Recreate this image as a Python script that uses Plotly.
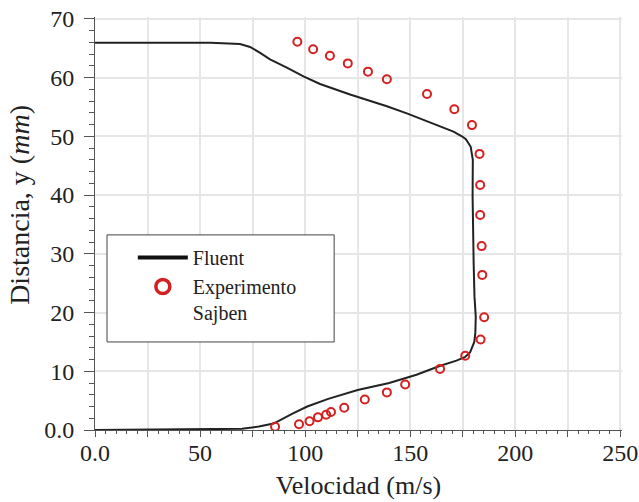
import plotly.graph_objects as go

# Fluent CFD velocity profile (velocity m/s, distance mm)
fluent_vel = [0, 55, 70, 78, 85, 94, 101, 111, 125, 140, 153, 164, 172, 176, 178.5, 180.5, 181, 181.2,
              180.6, 180.2, 179.8, 179.7, 179.8, 178.8, 176.5, 174.6, 170.6, 162.7, 154.8, 148.4,
              138.9, 131.0, 121.4, 107.1, 99.2, 91.3, 83.3, 78.6, 73.8, 69.0, 62.0, 55.0, 0]
fluent_y = [0.0, 0.1, 0.2, 0.6, 1.1, 2.8, 4.0, 5.3, 6.8, 8.0, 9.4, 10.9, 11.8, 12.4, 13.2, 15.0, 16.5, 19.3,
            22.7, 28.4, 34.1, 39.7, 46.0, 48.2, 49.5, 50.0, 50.8, 51.9, 53.1, 53.9,
            55.1, 56.0, 57.1, 58.9, 60.2, 61.7, 63.1, 64.2, 65.2, 65.7, 65.85, 65.9, 65.9]

# Sajben experiment
exp_vel = [85.7, 97.1, 102.1, 106.1, 110.0, 112.3, 118.6, 128.4, 138.9, 147.6, 164.2, 176.2, 183.5,
           185.2, 184.3, 184.0, 183.3, 183.3, 183.0, 179.4, 171.0, 158.0, 138.9, 129.9, 120.3,
           111.8, 103.8, 96.3]
exp_y = [0.56, 0.97, 1.5, 2.15, 2.6, 3.05, 3.8, 5.2, 6.4, 7.75, 10.4, 12.65, 15.4,
         19.2, 26.4, 31.3, 36.6, 41.7, 47.0, 51.9, 54.6, 57.2, 59.7, 61.0, 62.4,
         63.7, 64.8, 66.1]

x_tickvals = [0, 25, 50, 75, 100, 125, 150, 175, 200, 225, 250]
x_ticktext = ["0.0", "", "50", "", "100", "", "150", "", "200", "", "250"]
y_tickvals = [0, 10, 20, 30, 40, 50, 60, 70]
y_ticktext = ["0.0", "10", "20", "30", "40", "50", "60", "70"]

RED = "#d42020"
FONT = "Liberation Serif"

fig = go.Figure()
fig.add_trace(go.Scatter(x=fluent_vel, y=fluent_y, mode="lines",
                         line=dict(color="#222222", width=2), showlegend=False))
fig.add_trace(go.Scatter(x=exp_vel, y=exp_y, mode="markers",
                         marker=dict(symbol="circle-open", size=8, color=RED, line=dict(width=2, color=RED)),
                         showlegend=False))
# legend entries
fig.add_trace(go.Scatter(x=[None], y=[None], mode="lines", name="Fluent",
                         line=dict(color="#111111", width=4)))
fig.add_trace(go.Scatter(x=[None], y=[None], mode="markers", name="Experimento<br>Sajben",
                         marker=dict(symbol="circle-open", size=14, color=RED, line=dict(width=3.5, color=RED))))

fig.update_layout(
    width=639, height=502, autosize=False,
    margin=dict(l=95, r=17.32, t=17.24, b=72, autoexpand=False),
    paper_bgcolor="white", plot_bgcolor="white",
    font=dict(family=FONT, color="#222222", size=24),
    showlegend=True,
    legend=dict(x=0.0718, y=0.465, xanchor="left", yanchor="top",
                bgcolor="rgba(0,0,0,0)", borderwidth=0, itemwidth=50,
                font=dict(family=FONT, size=20, color="#222222"),
                valign="top", tracegroupgap=0),
    shapes=[dict(type="rect", xref="paper", yref="paper", x0=0.0228, x1=0.4538, y0=0.2132, y1=0.4724,
                 line=dict(color="#444444", width=1), fillcolor="white", layer="above")],
    annotations=[dict(text="Distancia, y (<i>mm</i>)", textangle=-90, xref="paper", yref="paper",
                      x=-0.1424, y=0.545, xanchor="center", yanchor="middle", showarrow=False,
                      font=dict(family=FONT, size=28, color="#222222"))],
)
fig.update_xaxes(range=[0, 250.8], tickmode="array", tickvals=x_tickvals, ticktext=x_ticktext,
                 automargin=False, ticklabeloverflow="allow",
                 ticks="outside", ticklen=6, tickcolor="#555555", tickwidth=1,
                 showline=True, linecolor="#555555", linewidth=1,
                 showgrid=True, gridcolor="#e6e6e6", gridwidth=1.5, zeroline=False,
                 minor=dict(dtick=5, ticklen=3, tickcolor="#555555", ticks="outside", showgrid=False),
                 tickfont=dict(family=FONT, size=24), ticklabelstandoff=-5,
                 title=dict(text="Velocidad (m/s)", font=dict(family=FONT, size=26), standoff=11))
fig.update_yaxes(range=[0, 70.3], tickmode="array", tickvals=y_tickvals, ticktext=y_ticktext,
                 automargin=False, ticklabeloverflow="allow",
                 ticks="outside", ticklen=10, tickcolor="#555555", tickwidth=1,
                 showline=True, linecolor="#555555", linewidth=1,
                 showgrid=True, gridcolor="#e6e6e6", gridwidth=1.5, zeroline=False,
                 minor=dict(dtick=2, ticklen=5, tickcolor="#555555", ticks="outside", showgrid=False),
                 tickfont=dict(family=FONT, size=24), ticklabelstandoff=5)

fig.write_html("out.html", config={"displayModeBar": False},
               post_script="document.body.style.margin='0';document.body.style.overflow='hidden';")
